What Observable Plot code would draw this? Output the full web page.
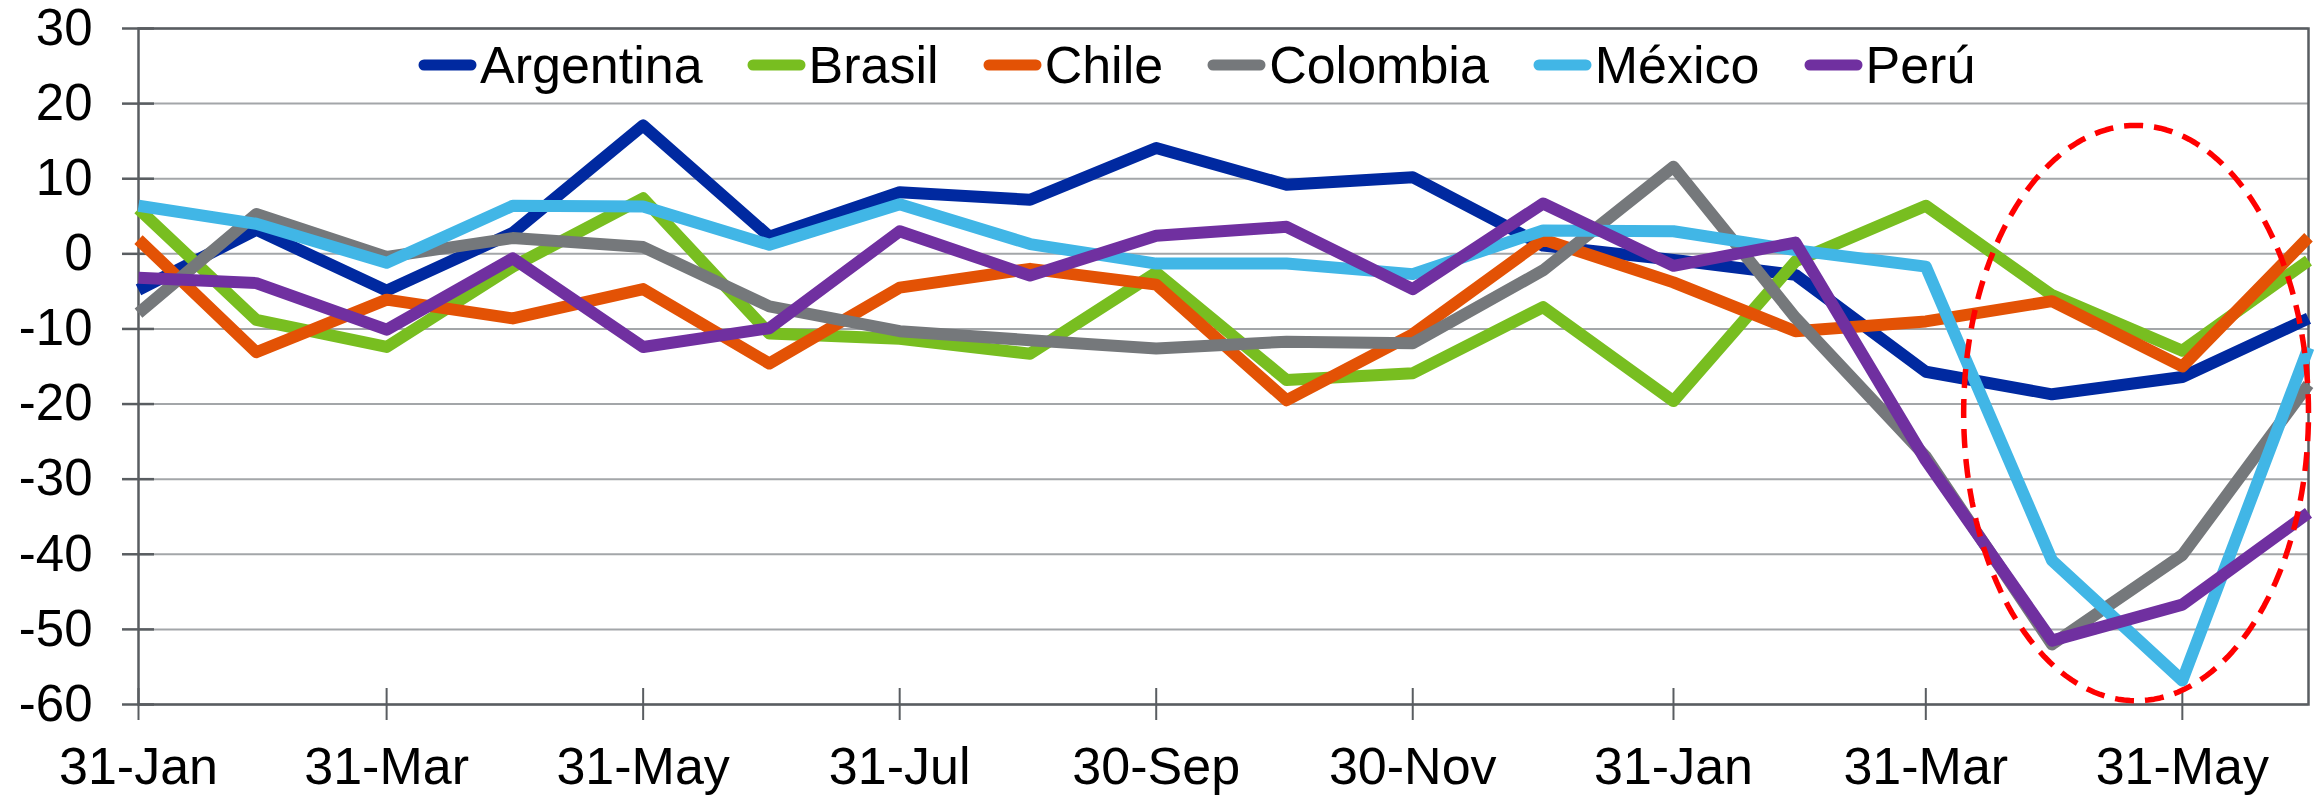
<!DOCTYPE html>
<html><head><meta charset="utf-8">
<script src="https://cdn.jsdelivr.net/npm/d3@7"></script>
<script src="https://cdn.jsdelivr.net/npm/@observablehq/plot@0.6"></script>
<style>
html,body{margin:0;padding:0;background:#fff;}
#wrap{position:relative;width:2321px;height:795px;font-family:"Liberation Sans",Arial,sans-serif;}
#legend{position:absolute;left:418px;top:35px;height:60px;display:flex;align-items:center;font-size:52px;line-height:60px;color:#000;white-space:nowrap;}
.item{display:flex;align-items:center;margin-right:44px;}
.item svg{margin-right:3px;display:block;}
</style></head><body><div id="wrap"><div id="legend"></div></div>
<script>
const months = ["2019-01-31","2019-02-28","2019-03-31","2019-04-30","2019-05-31","2019-06-30",
  "2019-07-31","2019-08-31","2019-09-30","2019-10-31","2019-11-30","2019-12-31",
  "2020-01-31","2020-02-29","2020-03-31","2020-04-30","2020-05-31","2020-06-30"];
const countries = ["Argentina","Brasil","Chile","Colombia","México","Perú"];
const colors = ["#0029A0","#78BE20","#E35205","#75787B","#41B6E6","#7030A0"];
const argentina = [-4.8, 3.2, -4.9, 2.8, 17.1, 2.3, 8.2, 7.2, 14.1, 9.2, 10.2, 1.1, -0.8, -2.8, -15.7, -18.7, -16.4, -8.6];
const brasil    = [6.0, -8.8, -12.4, -1.7, 7.4, -10.6, -11.3, -13.3, -2.5, -16.8, -15.9, -7.1, -19.6, -1.0, 6.4, -5.5, -12.9, -0.9];
const chile     = [1.9, -13.1, -6.1, -8.6, -4.7, -14.6, -4.5, -2.0, -4.1, -19.5, -10.7, 1.9, -3.8, -10.3, -9.0, -6.3, -15.0, 2.2];
const colombia  = [-7.9, 5.3, -0.4, 2.1, 0.9, -7.0, -10.3, -11.5, -12.6, -11.7, -11.9, -2.2, 11.6, -8.5, -27.0, -52.0, -40.1, -17.4];
const mexico    = [6.4, 4.0, -1.2, 6.4, 6.3, 1.2, 6.6, 1.3, -1.3, -1.3, -2.7, 3.1, 3.0, 0.5, -1.7, -40.8, -56.8, -12.5];
const peru      = [-3.2, -3.9, -10.1, -0.6, -12.4, -9.9, 3.0, -2.9, 2.4, 3.6, -4.7, 6.7, -1.6, 1.5, -27.5, -51.5, -46.7, -34.5];
const seriesValues = [argentina, brasil, chile, colombia, mexico, peru];
const yTicks = [30, 20, 10, 0, -10, -20, -30, -40, -50, -60];
const xTickDates = ["2019-01-31","2019-03-31","2019-05-31","2019-07-31","2019-09-30","2019-11-30","2020-01-31","2020-03-31","2020-05-31"];
const xTickLabels = ["31-Jan","31-Mar","31-May","31-Jul","30-Sep","30-Nov","31-Jan","31-Mar","31-May"];
// highlight ellipse annotation (data units)
const ellipseCenterDate = "2020-05-20", ellipseRadiusDays = 41, ellipseCenterValue = -21.2, ellipseRadiusValue = 38.3;

const parse = d3.utcParse("%Y-%m-%d");
const data = [];
countries.forEach((c, i) => seriesValues[i].forEach((v, j) => data.push({country: c, date: parse(months[j]), value: v})));
const xTicks = xTickDates.map(parse);
const labelMap = new Map(xTicks.map((d, i) => [+d, xTickLabels[i]]));
const ec = +parse(ellipseCenterDate);
const ellipse = d3.range(0, 361, 2).map(a => {
  const t = a * Math.PI / 180;
  return {date: new Date(ec + ellipseRadiusDays * 86400000 * Math.cos(t)), value: ellipseCenterValue + ellipseRadiusValue * Math.sin(t)};
});

const axisColor = "#595d61";
const chart = Plot.plot({
  width: 2321, height: 795,
  marginLeft: 138, marginRight: 13, marginTop: 28, marginBottom: 91,
  style: {fontFamily: "'Liberation Sans', Arial, sans-serif", background: "#fff", color: "#000", overflow: "visible"},
  x: {type: "utc", domain: [parse(months[0]), parse(months[months.length - 1])], label: null},
  y: {domain: [-60, 30], label: null},
  color: {domain: countries, range: colors},
  marks: [
    Plot.gridY(yTicks, {stroke: "#a3a6a9", strokeOpacity: 1, strokeWidth: 2}),
    Plot.frame({stroke: axisColor, strokeWidth: 2.5}),
    Plot.axisY(yTicks, {anchor: "left", label: null, tickSize: 32, dx: 16, stroke: axisColor, strokeWidth: 2.5, tickFormat: () => ""}),
    Plot.axisY(yTicks, {anchor: "left", label: null, tickSize: 0, tickPadding: 46, fontSize: 51, color: "#000", tickFormat: d => String(d)}),
    Plot.axisX(xTicks, {anchor: "bottom", label: null, tickSize: 32, dy: -16, stroke: axisColor, strokeWidth: 2, tickFormat: () => ""}),
    Plot.axisX(xTicks, {anchor: "bottom", label: null, tickSize: 0, tickPadding: 43, fontSize: 52, color: "#000", tickFormat: d => labelMap.get(+d)}),
    Plot.line(data, {x: "date", y: "value", z: "country", stroke: "country", strokeWidth: 12, strokeLinejoin: "round", strokeLinecap: "butt"}),
    Plot.line(ellipse, {x: "date", y: "value", stroke: "#ff0000", strokeWidth: 5.5, strokeDasharray: "19,11", strokeLinecap: "butt"})
  ]
});
document.getElementById("wrap").appendChild(chart);

const legend = document.getElementById("legend");
countries.forEach((c, i) => {
  const item = document.createElement("div");
  item.className = "item";
  item.innerHTML = `<svg width="59" height="14"><line x1="6" y1="7" x2="53" y2="7" stroke="${colors[i]}" stroke-width="11" stroke-linecap="round"/></svg><span>${c}</span>`;
  legend.appendChild(item);
});
</script></body></html>
